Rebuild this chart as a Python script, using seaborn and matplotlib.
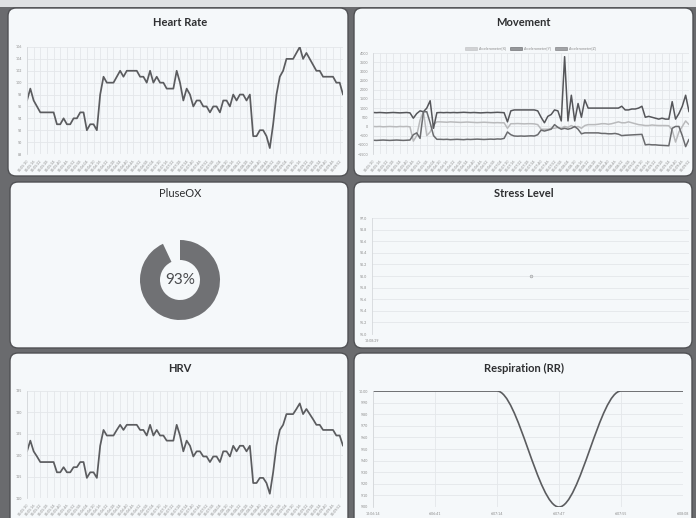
import numpy as np
import pandas as pd
import matplotlib
matplotlib.use("Agg")
import matplotlib.pyplot as plt
from matplotlib.patches import FancyBboxPatch, Patch, PathPatch, Rectangle
from matplotlib.path import Path
import seaborn as sns

W, H = 696, 518

# --- data ---
heart_rate = [97, 99, 97, 96, 95, 95, 95, 95, 95, 93, 93, 94, 93, 93, 94, 94, 95, 95, 92, 93,
              93, 92, 98, 101, 100, 100, 100, 101, 102, 101, 102, 102, 102, 102, 101, 101, 100, 102, 100, 101,
              100, 100, 99, 99, 99, 102, 100, 97, 99, 98, 96, 97, 97, 96, 96, 95, 96, 96, 95, 97,
              97, 96, 98, 97, 98, 98, 97, 98, 91, 91, 92, 92, 91, 89, 93, 98, 101, 102, 104, 104,
              104, 105, 106, 104, 105, 104, 103, 102, 102, 101, 101, 101, 101, 100, 100, 98]

hrv = [120.9, 123.4, 120.9, 119.7, 118.4, 118.4, 118.4, 118.4, 118.4, 116.0, 116.0, 117.2, 116.0, 116.0,
       117.2, 117.2, 118.4, 118.4, 114.7, 116.0, 116.0, 114.7, 122.2, 125.9, 124.6, 124.6, 124.6, 125.9,
       127.1, 125.9, 127.1, 127.1, 127.1, 127.1, 125.9, 125.9, 124.6, 127.1, 124.6, 125.9, 124.6, 124.6,
       123.4, 123.4, 123.4, 127.1, 124.6, 120.9, 123.4, 122.2, 119.7, 120.9, 120.9, 119.7, 119.7, 118.4,
       119.7, 119.7, 118.4, 120.9, 120.9, 119.7, 122.2, 120.9, 122.2, 122.2, 120.9, 122.2, 113.5, 113.5,
       114.7, 114.7, 113.5, 111.0, 116.0, 122.2, 125.9, 127.1, 129.6, 129.6, 129.6, 130.8, 132.1, 129.6,
       130.8, 129.6, 128.4, 127.1, 127.1, 125.9, 125.9, 125.9, 125.9, 124.6, 124.6, 122.2]

acc_x = [0, -10, 0, -20, -10, 0, -10, -20, 0, -10, 0, -20, -800, -500, 350, 800, -500, -300, 100, 250,
         250, 240, 230, 250, 240, 230, 220, 230, 240, 230, 220, 210, 220, 230, 220, 210, 200, 210, 200, 200,
         -100, 150, 150, 160, 150, 140, 150, 150, 140, 100, -150, -150, -150, -100, -100, -50, -100, 0, -50, 50,
         -50, 0, -100, 50, 100, 100, 100, 120, 150, 150, 120, 150, 200, 250, 200, 200, 250, 200, 150, 100,
         80, 50, 50, 80, 60, 50, 50, 50, 40, -200, -850, -300, 0, 300, 100]
acc_y = [760, 750, 760, 750, 740, 750, 760, 750, 740, 750, 760, 740, 450, 700, 850, 800, 1000, 1400, -100, 750,
         760, 750, 760, 750, 760, 750, 760, 770, 760, 750, 760, 750, 740, 750, 760, 750, 760, 770, 760, 750,
         250, 850, 900, 900, 900, 900, 900, 900, 900, 850, 500, 200, 550, 650, 900, 850, 300, 3800, 300, 1700,
         300, 1250, 500, 1450, 1000, 1000, 1000, 1000, 1000, 1000, 1000, 1000, 1000, 1000, 1100, 900, 900, 950, 950, 1000,
         1100, 500, 550, 500, 450, 400, 450, 400, 400, 1350, 400, 700, 1100, 1700, 800]
acc_z = [-750, -760, -750, -740, -750, -760, -750, -740, -750, -760, -750, -740, -450, -350, -650, 800, 800, 200, -500, -700,
         -700, -710, -700, -720, -710, -700, -710, -720, -700, -710, -700, -690, -700, -710, -700, -690, -700, -680, -690, -650,
         -300, -450, -520, -530, -520, -530, -520, -510, -520, -450, -200, -250, -200, -150, 100, -50, -150, -100, -150, -100,
         0, -150, -400, -350, -350, -350, -350, -350, -380, -380, -400, -400, -380, -420, -500, -480, -470, -460, -450, -440,
         -430, -1000, -980, -1000, -1000, -1020, -1030, -1040, -1050, -100, 0, 0, -500, -1100, -700]
movement_names = ["Accelerometer[X]", "Accelerometer[Y]", "Accelerometer[Z]"]

pulse_ox = 93

stress_times = ["12:08:29"]
stress_values = [96.0]

resp_times = ["12:06:14", "6:06:41", "6:07:14", "6:07:47", "6:07:55", "6:08:08"]
resp_values = [10.0, 10.0, 10.0, 9.0, 10.0, 10.0]

hr_times = list(pd.date_range("2024-01-01 06:05:10", periods=len(heart_rate), freq="3s").strftime("%H:%M:%S"))
mv_times = list(pd.date_range("2024-01-01 06:05:10", periods=len(acc_x), freq="3s").strftime("%H:%M:%S"))

# --- style ---
sns.set_theme(style="white")
plt.rcParams["font.family"] = ["Lato", "DejaVu Sans"]

LINE = "#5b5c5f"
GRID = "#e4e7ea"
TICK = "#8a8a8a"
CARD = "#f5f8fa"
FRAME = "#6a6b6e"

fig = plt.figure(figsize=(W / 100, H / 100), dpi=100)
fig.patch.set_facecolor(FRAME)

# background layer in pixel coordinates (top-left origin)
bg = fig.add_axes([0, 0, 1, 1], zorder=-5)
bg.set_xlim(0, W)
bg.set_ylim(H, 0)
bg.axis("off")
bg.add_patch(Rectangle((0, 0), W, 7, color="#dfe1e3", lw=0))

cards = [(8, 8, 348, 176), (354, 8, 693, 176),
         (10, 182, 348, 348), (354, 182, 692, 348),
         (10, 353, 348, 528), (354, 353, 692, 528)]
for x0, y0, x1, y1 in cards:
    bg.add_patch(FancyBboxPatch((x0, y0), x1 - x0, y1 - y0,
                                boxstyle="round,pad=0,rounding_size=8",
                                fc=CARD, ec="#505154", lw=1.0))


def px_axes(x0, y0, x1, y1):
    a = fig.add_axes([x0 / W, 1 - y1 / H, (x1 - x0) / W, (y1 - y0) / H])
    a.set_facecolor("none")
    return a


def title(x, y, text, weight="bold"):
    fig.text(x / W, 1 - y / H, text, ha="center", va="center",
             fontsize=8, fontweight=weight, color="#2e2f31")


def chart_style(ax, vertical=True):
    for s in ax.spines.values():
        s.set_visible(False)
    ax.spines["left"].set_visible(True)
    ax.spines["left"].set_color("#d5d8db")
    ax.spines["left"].set_linewidth(0.6)
    ax.grid(True, axis="y", color=GRID, lw=0.6)
    if vertical:
        ax.grid(True, axis="x", color=GRID, lw=0.6)
    ax.tick_params(axis="both", labelsize=2.6, labelcolor=TICK, length=2,
                   width=0.4, color=GRID, pad=1.5)
    ax.set_xlabel("")
    ax.set_ylabel("")


def time_axis(ax, labels):
    pos = np.arange(0, len(labels), 2)
    ax.set_xticks(pos)
    ax.set_xticklabels([labels[i] for i in pos], rotation=50, ha="right",
                       rotation_mode="anchor")
    ax.set_xlim(0, len(labels) - 1)


# --- Heart Rate ---
ax = px_axes(27, 47, 343, 154)
sns.lineplot(x=np.arange(len(heart_rate)), y=heart_rate, ax=ax, color=LINE, lw=1.25)
ax.set_ylim(88, 106)
ax.set_yticks(np.arange(88, 107, 2))
time_axis(ax, hr_times)
chart_style(ax)
title(180, 22, "Heart Rate")

# --- Movement ---
ax = px_axes(373, 53, 689, 154)
mv = pd.DataFrame({"t": np.arange(len(acc_x)), movement_names[0]: acc_x,
                   movement_names[1]: acc_y, movement_names[2]: acc_z})
mv = mv.melt(id_vars="t", var_name="axis", value_name="value")
mv_colors = dict(zip(movement_names, ["#b9babc", "#55565a", "#6a6b6e"]))
sns.lineplot(data=mv, x="t", y="value", hue="axis", palette=mv_colors, ax=ax,
             lw=1.1, legend=False)
ax.set_ylim(-1500, 4000)
ax.set_yticks(np.arange(-1500, 4001, 500))
time_axis(ax, mv_times)
chart_style(ax)
handles = [Patch(fc=mv_colors[n], ec=mv_colors[n], alpha=0.6, lw=0.6, label=n)
           for n in movement_names]
ax.legend(handles=handles, loc="lower center", bbox_to_anchor=(0.5, 1.0), ncol=3,
          fontsize=2.6, frameon=False, handlelength=3.2, handleheight=1.0,
          columnspacing=1.0, handletextpad=0.5, borderaxespad=0.3,
          labelcolor=TICK)
title(523, 22, "Movement")

# --- PluseOX ---
ax = px_axes(140, 240, 220, 320)
ax.pie([pulse_ox, 100 - pulse_ox], colors=["#707174", "none"], startangle=90,
       counterclock=False, radius=1.0, wedgeprops=dict(width=0.5, lw=0))
ax.set_xlim(-1, 1)
ax.set_ylim(-1, 1)
ax.set_aspect("equal")
ax.text(0, 0, f"{pulse_ox}%", ha="center", va="center", fontsize=11, color="#4a4b4e")
title(180, 194, "PluseOX", weight="normal")

# --- Stress Level ---
ax = px_axes(372, 218, 689, 334)
sns.scatterplot(x=np.arange(len(stress_values)), y=stress_values, ax=ax, s=4,
                color="#d9dadc", edgecolor="#9a9b9d", linewidth=0.4)
ax.set_xlim(-1, 1)
ax.set_ylim(95, 97)
ax.set_yticks(np.arange(95, 97.01, 0.2))
ax.set_yticklabels([f"{v:.1f}" for v in np.arange(95, 97.01, 0.2)])
ax.set_xticks([-1])
ax.set_xticklabels(stress_times)
chart_style(ax, vertical=False)
title(524, 194, "Stress Level")

# --- HRV ---
ax = px_axes(27, 391, 343, 498)
sns.lineplot(x=np.arange(len(hrv)), y=hrv, ax=ax, color=LINE, lw=1.25)
ax.set_ylim(110, 135)
ax.set_yticks(np.arange(110, 136, 5))
time_axis(ax, hr_times)
chart_style(ax)
title(180, 368, "HRV")

# --- Respiration (RR) ---
ax = px_axes(373, 391, 683, 507)
sns.scatterplot(x=np.arange(len(resp_values)), y=resp_values, ax=ax, s=0)
# smooth (monotone) line like the web chart: flat tangents at every point
verts, codes = [(0, resp_values[0])], [Path.MOVETO]
for i in range(1, len(resp_values)):
    x0, x1 = i - 1, i
    dx = (x1 - x0) / 3
    verts += [(x0 + dx, resp_values[i - 1]), (x1 - dx, resp_values[i]), (x1, resp_values[i])]
    codes += [Path.CURVE4] * 3
ax.add_patch(PathPatch(Path(verts, codes), fc="none", ec=LINE, lw=1.2))
ax.set_xlim(0, len(resp_values) - 1)
ax.set_ylim(9.0, 10.0)
yt = np.arange(9.0, 10.001, 0.1)
ax.set_yticks(yt)
ax.set_yticklabels([f"{v:.2f}" for v in yt])
ax.set_xticks(np.arange(len(resp_times)))
ax.set_xticklabels(resp_times)
chart_style(ax)
title(524, 368, "Respiration (RR)")

fig.savefig("out.png", dpi=100, facecolor=fig.get_facecolor())
